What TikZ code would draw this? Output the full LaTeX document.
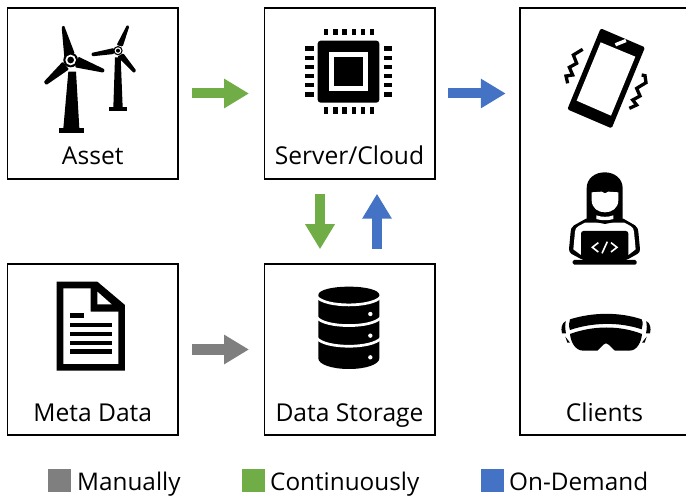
\documentclass[tikz,border=0pt]{standalone}
\usepackage{fontspec}
\setmainfont{Open Sans}
\usetikzlibrary{arrows.meta}
\definecolor{cgreen}{HTML}{70AD47}
\definecolor{cblue}{HTML}{4472C4}
\definecolor{cgrey}{HTML}{7F7F7F}
\tikzset{
  boxnode/.style={draw=black,line width=1.5pt,minimum width=170.5pt,minimum height=171pt,inner sep=0pt,fill=white},
  lbl/.style={anchor=base,inner sep=0pt,font=\fontsize{24.6}{24.6}\selectfont},
  leglbl/.style={anchor=base west,inner sep=0pt,font=\fontsize{24.3}{24.3}\selectfont},
  legsq/.style={draw=none,minimum size=23pt,inner sep=0pt},
  flow/.style={line width=10pt,-{Triangle[length=25pt,width=28pt]}},
  ico/.style={x=0.33333pt,y=-0.33333pt}
}
\begin{document}
\begin{tikzpicture}[x=1pt,y=-1pt]
\clip (0,0) rectangle (686,497);
\node[boxnode] (asset) at (92.75,93.5) {};
\node[boxnode] (server) at (349.5,93.5) {};
\node[boxnode] (meta) at (92.75,349.5) {};
\node[boxnode] (data) at (349.5,349.5) {};
\node[boxnode,minimum width=190pt,minimum height=427pt] (clients) at (615,221.5) {};
\node[lbl] (tasset) at (92.75,165) {Asset};
\node[lbl] (tserver) at (349.5,165) {Server/Cloud};
\node[lbl] (tmeta) at (92.75,421) {Meta Data};
\node[lbl] (tdata) at (349.5,421) {Data Storage};
\node[lbl] (tclients) at (604.5,421) {Clients};
% connectors
\draw[flow,cgreen,shorten <=13.5pt,shorten >=14.5pt] (asset) -- (server);
\draw[flow,cblue,shorten <=12.5pt,shorten >=13.5pt] (server.east) -- (server.east -| clients.west);
\draw[flow,cgrey,shorten <=13.5pt,shorten >=14.5pt] (meta) -- (data);
\draw[flow,cgreen,shorten <=14pt,shorten >=14pt] ([xshift=-29.5pt]server.south) -- ([xshift=-29.5pt]data.north);
\draw[flow,cblue,shorten <=14pt,shorten >=14pt] ([xshift=27.5pt]data.north) -- ([xshift=27.5pt]server.south);
% legend
\node[legsq,fill=cgrey] (lg1) at (59.5,480.5) {};
\node[legsq,fill=cgreen] (lg2) at (253.5,480.5) {};
\node[legsq,fill=cblue] (lg3) at (492.5,480.5) {};
\node[leglbl] (lt1) at (77,490) {Manually};
\node[leglbl] (lt2) at (270,490) {Continuously};
\node[leglbl] (lt3) at (509,490) {On-Demand};
% wind turbines
\begin{scope}[ico]
\fill[black,rounded corners=1pt] (192,76) -- (185,81) -- (193,172) -- (224,160) -- cycle;
\fill[black,rounded corners=1pt] (314,208) -- (311,218) -- (225,202) -- (235,170) -- cycle;
\fill[black,rounded corners=1pt] (131,246) -- (139,255) -- (207,208) -- (188,185) -- cycle;
\fill[black] (205,215) -- (228,215) -- (238,385) -- (190,385) -- cycle;
\fill[black] (178,384) rectangle (252,398);
\fill[black] (212,180) circle (22);
\fill[white] (212,180) circle (16);
\fill[black] (212,180) circle (10);
\fill[black,rounded corners=1pt] (381,75) -- (388,79) -- (368,140) -- (350,135) -- cycle;
\fill[black,rounded corners=1pt] (274,159) -- (276,169) -- (342,162) -- (342,144) -- cycle;
\fill[black,rounded corners=1pt] (409,212) -- (402,219) -- (352,170) -- (370,160) -- cycle;
\fill[black] (345,172) -- (362,172) -- (368,322) -- (340,322) -- cycle;
\fill[black] (328,322) rectangle (382,332);
\fill[black] (354,152) circle (14);
\fill[white] (354,152) circle (10);
\fill[black] (354,152) circle (6);
\end{scope}
% chip
\begin{scope}[shift={(260,0)},ico]
\fill[black,rounded corners=3pt] (173,122) rectangle (358,308);
\fill[white] (208,155) rectangle (325,272);
\fill[black] (222,170) rectangle (310,258);
\foreach \i in {0,...,5}{
  \fill[black] ({192+27.6*\i},87) rectangle ({205+27.6*\i},105);
  \fill[black] ({192+27.6*\i},322) rectangle ({205+27.6*\i},342);
  \fill[black] (136,{139+27.6*\i}) rectangle (162,{152+27.6*\i});
  \fill[black] (372,{139+27.6*\i}) rectangle (396,{152+27.6*\i});
}
\end{scope}
% phone
\begin{scope}[shift={(530,10)},ico]
\fill[black,rounded corners=1.5pt] (212,55) -- (345,112) -- (245,355) -- (112,298) -- cycle;
\fill[white] (212,97) -- (316,140) -- (243,317) -- (140,272) -- cycle;
\fill[white,rotate around={22:(272,98)}] (255,93) rectangle (289,103);
\draw[black,line width=3.3pt,miter limit=10] (158,118) -- (130,135) -- (140,160) -- (118,172) -- (128,195) -- (108,198) -- (113,220);
\draw[black,line width=3.3pt,miter limit=10] (335,195) -- (345,197) -- (348,218) -- (320,235) -- (330,258) -- (308,270) -- (320,285) -- (298,295);
\end{scope}
% person and goggles
\begin{scope}[shift={(530,160)},ico]
\fill[black] (168,176) -- (132,196) .. controls (124,202) and (122,208) .. (122,215) -- (117,268) .. controls (117,274) and (120,278) .. (125,282) -- (153,297) -- (295,297) -- (322,282) .. controls (328,278) and (330,274) .. (330,268) -- (325,215) .. controls (325,208) and (322,202) .. (315,196) -- (280,176) -- cycle;
\fill[white] (165,188) -- (148,197) .. controls (138,203) and (135,208) .. (135,215) -- (130,268) -- (153,285) -- (295,285) -- (317,268) -- (312,215) .. controls (312,208) and (309,203) .. (300,197) -- (283,188) -- cycle;
\fill[black] (170,180) -- (170,85) .. controls (170,55) and (195,37) .. (224,37) .. controls (253,37) and (278,55) .. (278,85) -- (278,180) .. controls (262,182) and (255,186) .. (225,192) .. controls (195,186) and (186,182) .. (170,180) -- cycle;
\fill[white] (185,97) -- (215,95) -- (225,100) -- (235,95) -- (265,97) -- (265,120) .. controls (265,145) and (245,157) .. (225,157) .. controls (205,157) and (185,145) .. (185,120) -- cycle;
\fill[white] (199,166) .. controls (215,172) and (235,172) .. (250,166) -- (250,177) .. controls (235,182) and (215,182) .. (199,177) -- cycle;
\fill[black,rounded corners=2.5pt] (153,300) -- (153,213) -- (295,213) -- (295,300) -- cycle;
\fill[black,rounded corners=1.5pt] (128,300) rectangle (320,314);
\draw[white,line width=1.6pt] (205,248) -- (187,262) -- (205,276);
\draw[white,line width=1.6pt] (243,248) -- (261,262) -- (243,276);
\draw[white,line width=1.6pt] (232,245) -- (216,280);
% goggles
\fill[black] (120,478) .. controls (190,456) and (270,456) .. (335,478) .. controls (340,488) and (338,498) .. (335,508) .. controls (270,486) and (190,486) .. (120,510) .. controls (116,498) and (116,488) .. (120,478) -- cycle;
\fill[black] (120,522) .. controls (190,496) and (270,496) .. (336,522) .. controls (334,545) and (322,572) .. (298,572) -- (255,572) .. controls (245,565) and (238,552) .. (228,550) .. controls (218,552) and (212,565) .. (202,572) -- (160,572) .. controls (135,572) and (122,545) .. (120,522) -- cycle;
\fill[black] (107,483) .. controls (95,490) and (92,505) .. (96,520) -- (108,520) .. controls (105,505) and (105,495) .. (107,483) -- cycle;
\fill[black] (349,483) .. controls (361,490) and (364,505) .. (360,520) -- (348,520) .. controls (351,505) and (351,495) .. (349,483) -- cycle;
\fill[black] (106,530) -- (120,548) -- (112,548) -- cycle;
\fill[black] (350,530) -- (336,548) -- (344,548) -- cycle;
\end{scope}
% document
\begin{scope}[shift={(40,270)},ico]
\fill[black] (50,35) -- (172,35) -- (255,105) -- (255,302) -- (50,302) -- cycle;
\fill[white] (70,55) -- (152,55) -- (152,125) -- (235,125) -- (235,282) -- (70,282) -- cycle;
\fill[white] (172,65) -- (215,103) -- (172,103) -- cycle;
\fill[black] (90,130) rectangle (133,144);
\fill[black] (90,158) rectangle (216,172);
\fill[black] (90,185) rectangle (216,199);
\fill[black] (90,212) rectangle (216,225);
\fill[black] (90,238) rectangle (216,251);
\end{scope}
% database
\begin{scope}[shift={(300,275)},ico]
\fill[black] (55,60) .. controls (55,45) and (95,35) .. (147,35) .. controls (198,35) and (238,45) .. (238,60) -- (238,250) .. controls (238,268) and (198,282) .. (147,282) .. controls (95,282) and (55,268) .. (55,250) -- cycle;
\foreach \d in {0,62,124}{
  \draw[white,line width=2.7pt] (50,{65+\d}) .. controls (75,{98+\d}) and (218,{98+\d}) .. (243,{65+\d});
}
\fill[white] (211,117) circle (6.5);
\fill[white] (211,182) circle (6.5);
\fill[white] (211,247) circle (6.5);
\end{scope}
\end{tikzpicture}
\end{document}
